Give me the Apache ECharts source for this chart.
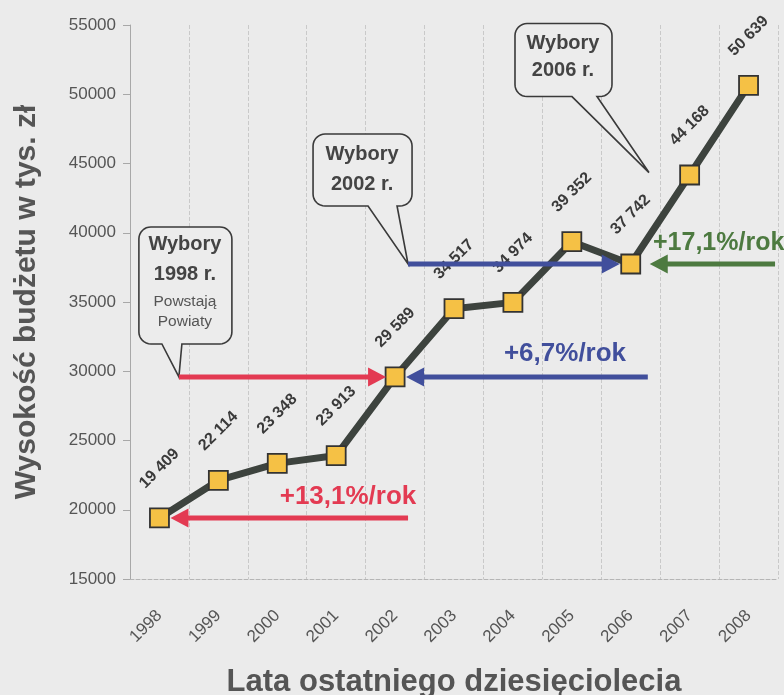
<!DOCTYPE html>
<html>
<head>
<meta charset="utf-8">
<script src="https://cdn.jsdelivr.net/npm/echarts@6/dist/echarts.min.js"></script>
<style>
  html, body { margin: 0; padding: 0; background: #ebebeb; }
  #chart { width: 784px; height: 695px; }
</style>
</head>
<body>
<div id="chart"></div>
<script>
// ---- data ----
const years = ['1998','1999','2000','2001','2002','2003','2004','2005','2006','2007','2008'];
const budget = [19409, 22114, 23348, 23913, 29589, 34517, 34974, 39352, 37742, 44168, 50639];
const yTicks = { min: 15000, max: 55000, interval: 5000 };
const yAxisTitle = 'Wysokość budżetu w tys. zł';
const xAxisTitle = 'Lata ostatniego dziesięciolecia';
const growthLabels = ['+13,1%/rok', '+6,7%/rok', '+17,1%/rok'];
const electionLabels = [['Wybory', '1998 r.', 'Powstają', 'Powiaty'], ['Wybory', '2002 r.'], ['Wybory', '2006 r.']];

const FONT = '"Liberation Sans", Arial, Helvetica, sans-serif';
const chart = echarts.init(document.getElementById('chart'), null, { renderer: 'canvas' });

function fmt(v) { return String(v).replace(/\B(?=(\d{3})+(?!\d))/g, ' '); }

chart.setOption({
  backgroundColor: '#ebebeb',
  animation: false,
  grid: { left: 130, right: 6, top: 25, bottom: 116, containLabel: false, outerBoundsMode: 'none' },
  xAxis: {
    type: 'category',
    data: years,
    boundaryGap: true,
    axisLine: { show: true, lineStyle: { color: '#b5b5b5', type: 'dashed', width: 1 } },
    axisTick: { show: false },
    axisLabel: { rotate: 45, margin: 34, fontSize: 17, color: '#555', fontFamily: FONT },
    splitLine: { show: true, interval: 0, lineStyle: { color: '#c9c9c9', type: 'dashed', width: 1 } },
    name: xAxisTitle,
    nameLocation: 'middle',
    nameGap: 88,
    nameTextStyle: { fontSize: 31, fontWeight: 'bold', color: '#555', fontFamily: FONT }
  },
  yAxis: {
    type: 'value',
    min: yTicks.min, max: yTicks.max, interval: yTicks.interval,
    axisLine: { show: true, lineStyle: { color: '#a8a8a8', width: 1 } },
    axisTick: { show: true, length: 7, lineStyle: { color: '#a8a8a8' } },
    axisLabel: { margin: 14, fontSize: 17, color: '#555', fontFamily: FONT, formatter: v => String(v) },
    splitLine: { show: false },
    name: yAxisTitle,
    nameLocation: 'middle',
    nameGap: 88,
    nameTextStyle: { fontSize: 30, fontWeight: 'bold', color: '#555', fontFamily: FONT }
  },
  series: [{
    type: 'line',
    data: budget,
    symbol: 'rect',
    symbolSize: 19,
    z: 3,
    lineStyle: { color: '#3d433e', width: 7 },
    itemStyle: { color: '#f5c145', borderColor: '#333', borderWidth: 1.8 },
    label: {
      show: true,
      position: 'top',
      distance: 39,
      rotate: 45,
      align: 'center',
      verticalAlign: 'middle',
      fontSize: 16,
      fontWeight: 'bold',
      color: '#3a3a3a',
      fontFamily: FONT,
      formatter: p => fmt(p.value)
    }
  }]
});

// ---- annotations anchored in data space ----
function P(idx, value) {
  const a = chart.convertToPixel({ gridIndex: 0 }, [0, value]);
  const b = chart.convertToPixel({ gridIndex: 0 }, [1, value]);
  return [a[0] + (b[0] - a[0]) * idx, a[1]];
}
function arrow(from, to, color) {
  const dx = to[0] - from[0], dir = dx >= 0 ? 1 : -1;
  const headLen = 18, headHalf = 9.5, w = 5;
  const baseX = to[0] - dir * headLen;
  return [
    { type: 'line', z: 10, shape: { x1: from[0], y1: from[1], x2: baseX + dir * 1, y2: to[1] }, style: { stroke: color, lineWidth: w } },
    { type: 'polygon', z: 10, shape: { points: [[to[0], to[1]], [baseX, to[1] - headHalf], [baseX, to[1] + headHalf]] }, style: { fill: color } }
  ];
}
function arcPts(cx, cy, r, a0, a1) {
  const pts = [];
  const n = 8;
  for (let i = 0; i <= n; i++) {
    const a = a0 + (a1 - a0) * i / n;
    pts.push([cx + r * Math.cos(a), cy + r * Math.sin(a)]);
  }
  return pts;
}
function bubble(tip, rect, base, r) {
  const [x1, y1, x2, y2] = [tip[0] + rect[0], tip[1] + rect[1], tip[0] + rect[2], tip[1] + rect[3]];
  const bx1 = tip[0] + base[0], bx2 = tip[0] + base[1];
  const PI = Math.PI;
  let pts = [];
  pts = pts.concat(arcPts(x1 + r, y1 + r, r, PI, 1.5 * PI));
  pts = pts.concat(arcPts(x2 - r, y1 + r, r, 1.5 * PI, 2 * PI));
  pts = pts.concat(arcPts(x2 - r, y2 - r, r, 0, 0.5 * PI));
  pts.push([bx2, y2], [tip[0], tip[1]], [bx1, y2]);
  pts = pts.concat(arcPts(x1 + r, y2 - r, r, 0.5 * PI, PI));
  return { type: 'polygon', z: 8, shape: { points: pts }, style: { fill: '#ececec', stroke: '#3a3a3a', lineWidth: 1.6, lineJoin: 'miter' } };
}
function txt(x, y, s, size, weight, color, align) {
  return { type: 'text', z: 11, x: x, y: y,
    style: { text: s, fontSize: size, fontWeight: weight, fill: color, fontFamily: FONT, align: align || 'center', verticalAlign: 'middle' } };
}

const RED = '#e33a52', BLUE = '#414f9c', GREEN = '#4d7a40';
const g = [];

// 1998 bubble and red upper arrow to 2002
const tip98 = P(0.33, budget[4]);
const p2002 = P(4, budget[4]);
g.push(bubble(tip98, [-40, -150, 53, -33], [-17, 3], 12));
g.push(txt(tip98[0] + 6, tip98[1] - 132, electionLabels[0][0], 20, 'bold', '#444'));
g.push(txt(tip98[0] + 6, tip98[1] - 102, electionLabels[0][1], 20, 'bold', '#444'));
g.push(txt(tip98[0] + 6, tip98[1] - 75, electionLabels[0][2], 15.5, 'normal', '#555'));
g.push(txt(tip98[0] + 6, tip98[1] - 55, electionLabels[0][3], 15.5, 'normal', '#555'));
g.push(...arrow(tip98, [p2002[0] - 9, p2002[1]], RED));

// red lower arrow into 1998
const p1998 = P(0, budget[0]);
const redFrom = P(4.22, budget[0]);
g.push(...arrow(redFrom, [p1998[0] + 11, p1998[1]], RED));
g.push(txt(348, redFrom[1] - 21, growthLabels[0], 26, 'bold', RED));

// blue lower arrow into 2002
const blueFrom = P(8.29, budget[4]);
g.push(...arrow(blueFrom, [p2002[0] + 11, p2002[1]], BLUE));
g.push(txt(565, blueFrom[1] - 23, growthLabels[1], 26, 'bold', BLUE));

// 2002 bubble & blue upper arrow to 2006
const p2006 = P(8, budget[8]);
const tip02 = P(4.22, budget[8]);
g.push(bubble(tip02, [-95, -130, 4, -58], [-40, -11], 12));
g.push(txt(tip02[0] - 46, tip02[1] - 110, electionLabels[1][0], 20, 'bold', '#444'));
g.push(txt(tip02[0] - 46, tip02[1] - 80, electionLabels[1][1], 20, 'bold', '#444'));
g.push(...arrow(tip02, [p2006[0] - 11, p2006[1]], BLUE));

// green arrow into 2006
const greenFrom = P(10.45, budget[8]);
g.push(...arrow(greenFrom, [p2006[0] + 19, p2006[1]], GREEN));
g.push(txt(653, greenFrom[1] - 21, growthLabels[2], 25, 'bold', GREEN, 'left'));

// 2006 bubble
const tip06 = P(8.31, 44346);
g.push(bubble(tip06, [-134, -149, -37, -76], [-77, -52], 12));
g.push(txt(tip06[0] - 86, tip06[1] - 129, electionLabels[2][0], 20, 'bold', '#444'));
g.push(txt(tip06[0] - 86, tip06[1] - 102, electionLabels[2][1], 20, 'bold', '#444'));

chart.setOption({ graphic: { elements: g } });
</script>
</body>
</html>
